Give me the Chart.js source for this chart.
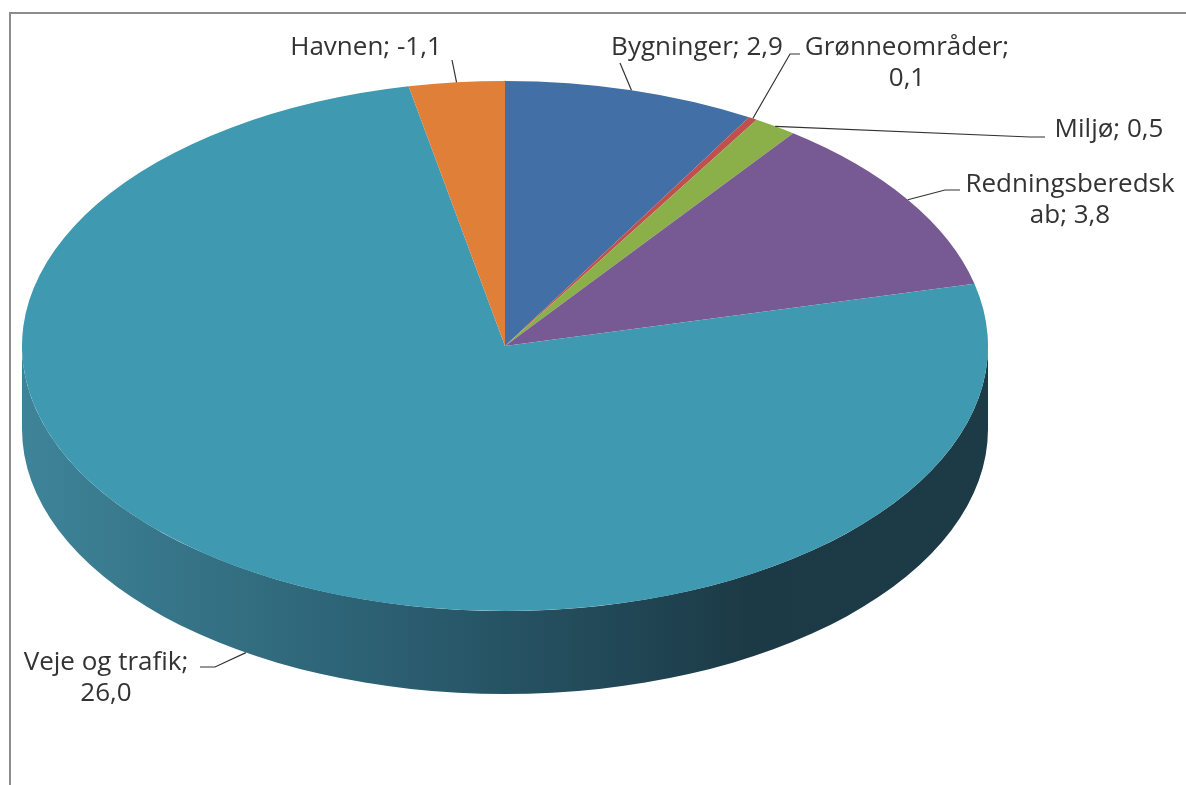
<!DOCTYPE html>
<html>
<head>
<meta charset="utf-8">
<script src="https://cdn.jsdelivr.net/npm/chart.js@4"></script>
<style>
  body { margin: 0; background: #fff; }
  #wrap { position: relative; width: 1186px; height: 785px; }
  #frame { position: absolute; left: 9px; top: 12px; width: 1177px; height: 771px;
           border-left: 2px solid #8c8c8c; border-top: 2px solid #8c8c8c; }
  canvas { position: absolute; left: 0; top: 0; }
</style>
</head>
<body>
<div id="wrap">
  <div id="frame"></div>
  <canvas id="c" width="1186" height="785"></canvas>
</div>
<script>
// data
const categories = ['Bygninger', 'Grønneområder', 'Miljø', 'Redningsberedskab', 'Veje og trafik', 'Havnen'];
const values = [2.9, 0.1, 0.5, 3.8, 26.0, -1.1];
const colors = ['#416fa6', '#c0504d', '#8bb04a', '#775a93', '#3f99b0', '#e07f38'];

// label layout: text centre, first line middle, wrap index, leader bends
const labelLayout = [
  { cx: 697, cy: 48, wrap: 0, leader: [[620, 63]] },
  { cx: 907, cy: 48, wrap: 14, leader: [[790, 54], [800, 54]] },
  { cx: 1109, cy: 130, wrap: 0, leader: [[1030, 137], [1045, 137]] },
  { cx: 1070, cy: 185, wrap: 15, leader: [[945, 190], [960, 190]] },
  { cx: 106, cy: 663, wrap: 15, leader: [[215, 667], [200, 667]] },
  { cx: 366, cy: 48, wrap: 0, leader: [[452, 60]] }
];

const stretchX = 483 / 265;  // ellipse ratio
const depth = 83;
const fmt = v => v.toFixed(1).replace('.', ',');

const tilt = {
  id: 'tilt',
  beforeDatasetsDraw(chart) {
    const ctx = chart.ctx;
    const arcs = chart.getDatasetMeta(0).data;
    const { x, y, outerRadius: r } = arcs[0];
    ctx.save();
    ctx.translate(x, y);
    ctx.scale(stretchX, 1);
    ctx.translate(-x, -y);
    // side walls of the front half
    const grad = ctx.createLinearGradient(x - r, 0, x + r, 0);
    grad.addColorStop(0, '#3e8499');
    grad.addColorStop(0.45, '#28586a');
    grad.addColorStop(0.75, '#1c3a46');
    grad.addColorStop(1, '#1d3b47');
    arcs.forEach((a) => {
      for (let k = -1; k <= 1; k++) {
        const lo = Math.max(a.startAngle, 2 * Math.PI * k);
        const hi = Math.min(a.endAngle, 2 * Math.PI * k + Math.PI);
        if (hi <= lo) continue;
        ctx.beginPath();
        ctx.arc(x, y, r, lo, hi);
        ctx.arc(x, y + depth, r, hi, lo, true);
        ctx.closePath();
        ctx.fillStyle = grad;
        ctx.fill();
      }
    });
  },
  afterDatasetsDraw(chart) {
    const ctx = chart.ctx;
    ctx.restore();
    const arcs = chart.getDatasetMeta(0).data;
    ctx.save();
    ctx.font = '26px "Open Sans", sans-serif';
    ctx.fillStyle = '#333333';
    ctx.strokeStyle = '#333333';
    ctx.lineWidth = 1.2;
    ctx.textAlign = 'center';
    ctx.textBaseline = 'middle';
    arcs.forEach((a, i) => {
      const lay = labelLayout[i];
      const mid = (a.startAngle + a.endAngle) / 2;
      const ax = a.x + a.outerRadius * stretchX * Math.cos(mid);
      let ay = a.y + a.outerRadius * Math.sin(mid);
      if (Math.sin(mid) > 0) ay += depth;
      ctx.beginPath();
      ctx.moveTo(ax, ay);
      lay.leader.forEach(p => ctx.lineTo(p[0], p[1]));
      ctx.stroke();
      const text = categories[i] + '; ' + fmt(values[i]);
      const lines = lay.wrap ? [text.slice(0, lay.wrap), text.slice(lay.wrap).trim()] : [text];
      lines.forEach((t, j) => ctx.fillText(t, lay.cx, lay.cy + j * 31));
    });
    ctx.restore();
  }
};

new Chart(document.getElementById('c'), {
  type: 'pie',
  data: {
    labels: categories,
    datasets: [{
      data: values.map(v => Math.abs(v)),
      backgroundColor: colors,
      borderWidth: 0,
      hoverOffset: 0,
      clip: false
    }]
  },
  options: {
    responsive: false,
    animation: false,
    layout: { padding: { left: 205, right: 381, top: 81, bottom: 174 } },
    plugins: { legend: { display: false }, tooltip: { enabled: false } }
  },
  plugins: [tilt]
});
</script>
</body>
</html>
